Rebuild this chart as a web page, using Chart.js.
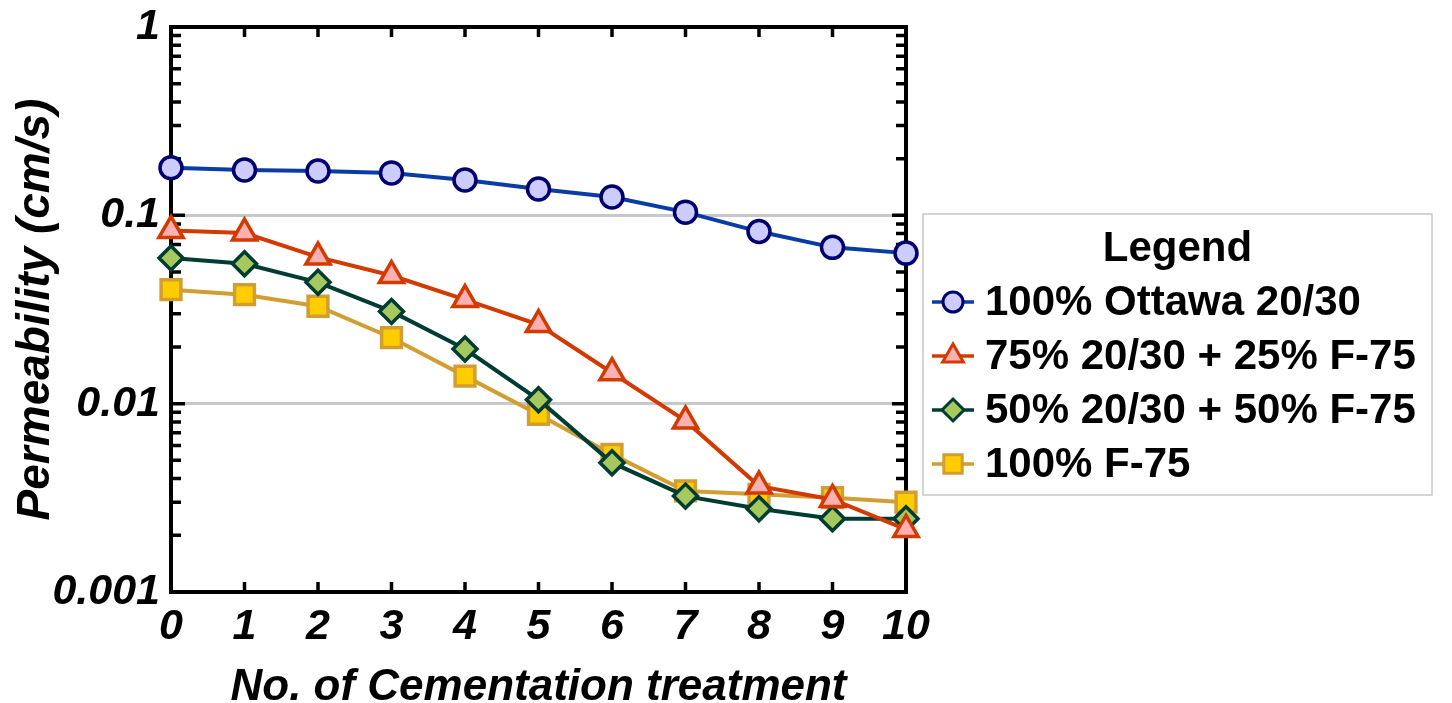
<!DOCTYPE html>
<html>
<head>
<meta charset="utf-8">
<script src="https://cdn.jsdelivr.net/npm/chart.js@4.4.1/dist/chart.umd.min.js"></script>
<style>
    html, body { margin: 0; padding: 0; background: #fff; overflow: hidden; }
</style>
</head>
<body>
<canvas id="chart" width="1452" height="703"></canvas>
<script>
// data
var treatments = [0, 1, 2, 3, 4, 5, 6, 7, 8, 9, 10];
var ottawa = [0.179, 0.174, 0.172, 0.168, 0.154, 0.138, 0.125, 0.104, 0.082, 0.0676, 0.063];
var mix75 = [0.083, 0.0805, 0.060, 0.0479, 0.0357, 0.0263, 0.0146, 0.0081, 0.00365, 0.0031, 0.00215];
var mix50 = [0.0593, 0.0553, 0.0441, 0.0309, 0.0195, 0.0105, 0.00486, 0.00323, 0.00277, 0.00245, 0.00245];
var f75 = [0.0403, 0.0379, 0.0329, 0.0224, 0.0140, 0.00877, 0.00538, 0.00344, 0.0033, 0.00317, 0.0030];
var seriesNames = ["100% Ottawa 20/30", "75% 20/30 + 25% F-75", "50% 20/30 + 50% F-75", "100% F-75"];
var yTicks = [0.001, 0.01, 0.1, 1];
var yTickLabels = ["0.001", "0.01", "0.1", "1"];
var xTitle = "No. of Cementation treatment";
var yTitle = "Permeability (cm/s)";
var legendTitle = "Legend";

function toPoints(values) {
    return treatments.map(function (t, i) { return { x: t, y: values[i] }; });
}

function makeSet(label, values, line, border, fill, style, radius, legendRadius) {
    return {
        label: label,
        data: toPoints(values),
        borderColor: line,
        borderWidth: 4,
        pointStyle: style,
        pointRadius: radius,
        pointHoverRadius: radius,
        pointBackgroundColor: fill,
        pointBorderColor: border,
        pointBorderWidth: 3.5,
        legendRadius: legendRadius,
        tension: 0,
        clip: false
    };
}

var FONT = "'Liberation Sans', Arial, sans-serif";

// black frame + inward ticks (minor ones on the log axis)
var framePlugin = {
    id: 'frame',
    beforeDatasetsDraw: function (chart) {
        var ctx = chart.ctx, a = chart.chartArea;
        var sy = chart.scales.y, sx = chart.scales.x;
        ctx.save();
        ctx.strokeStyle = '#000';
        ctx.lineWidth = 4;
        ctx.strokeRect(a.left, a.top, a.right - a.left, a.bottom - a.top);
        ctx.lineWidth = 3.5;
        ctx.beginPath();
        for (var d = -3; d < 0; d++) {
            for (var m = 1; m <= 9; m++) {
                if (m === 1 && d === -3) continue;
                var py = sy.getPixelForValue(m * Math.pow(10, d));
                var len = m === 1 ? 14 : 10;
                ctx.moveTo(a.left, py); ctx.lineTo(a.left + len, py);
                ctx.moveTo(a.right, py); ctx.lineTo(a.right - len, py);
            }
        }
        treatments.forEach(function (t) {
            if (t === 0 || t === 10) return;
            var px = sx.getPixelForValue(t);
            ctx.moveTo(px, a.bottom); ctx.lineTo(px, a.bottom - 10);
            ctx.moveTo(px, a.top); ctx.lineTo(px, a.top + 10);
        });
        ctx.stroke();
        ctx.restore();
    }
};

// boxed legend at the right, markers with a line through
var boxLegend = {
    id: 'boxLegend',
    afterDraw: function (chart) {
        var ctx = chart.ctx;
        var bx = 923, by = 214, bw = 509, bh = 281;
        ctx.save();
        ctx.fillStyle = '#fff';
        ctx.fillRect(bx, by, bw, bh);
        ctx.strokeStyle = '#c8c8c8';
        ctx.lineWidth = 1.5;
        ctx.strokeRect(bx, by, bw, bh);

        ctx.fillStyle = '#000';
        ctx.font = 'bold 42px ' + FONT;
        ctx.textAlign = 'center';
        ctx.textBaseline = 'middle';
        ctx.fillText(legendTitle, bx + bw / 2, 249);

        ctx.textAlign = 'left';
        chart.data.datasets.forEach(function (ds, i) {
            var cy = 302 + i * 54;
            ctx.strokeStyle = ds.borderColor;
            ctx.lineWidth = 3.5;
            ctx.beginPath();
            ctx.moveTo(932, cy); ctx.lineTo(974, cy);
            ctx.stroke();
            ctx.fillStyle = ds.pointBackgroundColor;
            ctx.strokeStyle = ds.pointBorderColor;
            ctx.lineWidth = 3;
            Chart.helpers.drawPoint(ctx, {
                pointStyle: ds.pointStyle,
                radius: ds.legendRadius,
                rotation: 0,
                borderWidth: 3
            }, 953, cy);
            ctx.fillStyle = '#000';
            ctx.font = 'bold 42px ' + FONT;
            ctx.fillText(ds.label, 985, cy + 1);
        });
        ctx.restore();
    }
};

var ctxChart = document.getElementById('chart').getContext('2d');
var chart = new Chart(ctxChart, {
    type: 'line',
    plugins: [framePlugin, boxLegend],
    data: {
        datasets: [
            makeSet(seriesNames[0], ottawa, '#0a3ca5', '#000070', '#ccccff', 'circle', 11, 10),
            makeSet(seriesNames[1], mix75, '#d23a00', '#d23a00', '#ffb0b0', 'triangle', 14, 12),
            makeSet(seriesNames[2], mix50, '#003c32', '#003c32', '#a6c85e', 'rectRot', 12, 11),
            makeSet(seriesNames[3], f75, '#d29e32', '#d29e32', '#ffcc00', 'rect', 14, 13)
        ]
    },
    options: {
        responsive: false,
        animation: false,
        events: [],
        layout: { padding: { top: 27, right: 546, left: 0, bottom: 0 } },
        plugins: {
            legend: { display: false },
            title: { display: false },
            tooltip: { enabled: false }
        },
        scales: {
            x: {
                type: 'linear',
                min: 0,
                max: 10,
                afterFit: function (scale) {
                    scale.height = 111;
                    scale.paddingLeft = 0;
                    scale.paddingRight = 0;
                },
                ticks: {
                    stepSize: 1,
                    padding: 9,
                    color: '#000',
                    font: { family: FONT, size: 43, weight: 'bold', style: 'italic' }
                },
                grid: { display: false, drawTicks: false },
                border: { display: false },
                title: {
                    display: true,
                    text: xTitle,
                    color: '#000',
                    padding: { top: 0, bottom: 0 },
                    font: { family: FONT, size: 44, weight: 'bold', style: 'italic', lineHeight: 0.7 }
                }
            },
            y: {
                type: 'logarithmic',
                min: 0.001,
                max: 1,
                afterFit: function (scale) {
                    scale.width = 171;
                    scale.paddingTop = 0;
                    scale.paddingBottom = 0;
                },
                afterBuildTicks: function (scale) {
                    scale.ticks = yTicks.map(function (v) { return { value: v }; });
                },
                ticks: {
                    padding: 11,
                    color: '#000',
                    font: { family: FONT, size: 43, weight: 'bold', style: 'italic' },
                    callback: function (value) {
                        var i = yTicks.indexOf(value);
                        return i >= 0 ? yTickLabels[i] : '';
                    }
                },
                grid: {
                    drawTicks: false,
                    lineWidth: 3,
                    color: function (c) {
                        var v = c.tick ? c.tick.value : null;
                        return (v === 0.01 || v === 0.1) ? '#c8c8c8' : 'rgba(0,0,0,0)';
                    }
                },
                border: { display: false },
                title: {
                    display: true,
                    text: yTitle,
                    color: '#000',
                    padding: { top: 9, bottom: 0 },
                    font: { family: FONT, size: 46, weight: 'bold', style: 'italic' }
                }
            }
        }
    }
});
</script>
</body>
</html>
